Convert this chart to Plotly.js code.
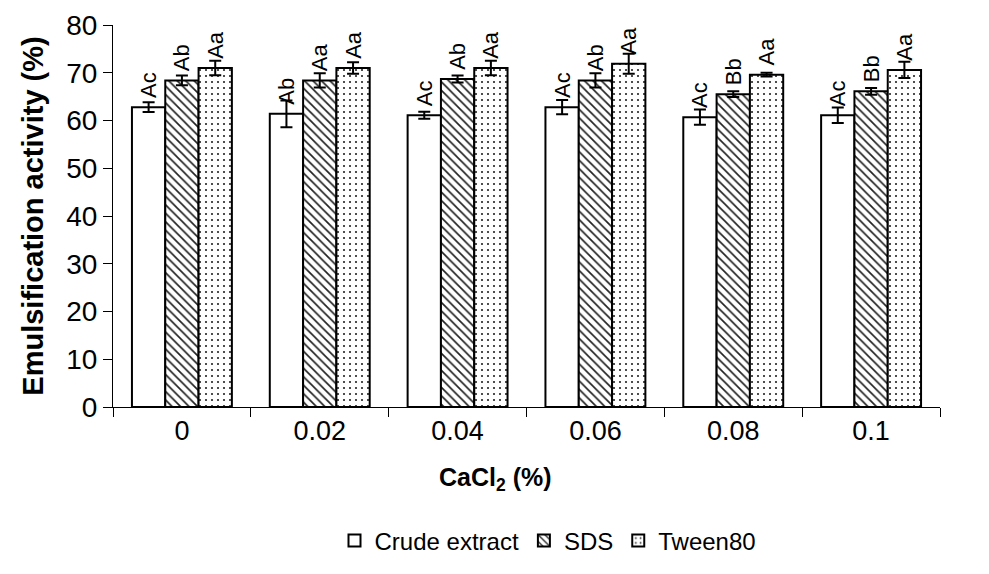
<!DOCTYPE html>
<html>
<head>
<meta charset="utf-8">
<script src="https://cdn.plot.ly/plotly-3.0.1.min.js"></script>
<style>html,body{margin:0;padding:0;background:#fff;}#chart{width:989px;height:574px;}</style>
</head>
<body>
<div id="chart"></div>
<script>
const categories = ["0", "0.02", "0.04", "0.06", "0.08", "0.1"];
const seriesNames = ["Crude extract", "SDS", "Tween80"];
const crudeValues = [62.8, 61.4, 61.1, 62.8, 60.7, 61.1];
const crudeErrors = [1.0, 2.8, 0.75, 1.5, 1.6, 1.6];
const crudeLabels = ["Ac", "Ab", "Ac", "Ac", "Ac", "Ac"];
const sdsValues = [68.4, 68.4, 68.7, 68.4, 65.5, 66.1];
const sdsErrors = [1.0, 1.5, 0.75, 1.5, 0.6, 0.7];
const sdsLabels = ["Ab", "Aa", "Ab", "Ab", "Bb", "Bb"];
const tweenValues = [71.0, 71.0, 71.0, 71.9, 69.6, 70.6];
const tweenErrors = [1.5, 1.2, 1.5, 2.1, 0.4, 1.7];
const tweenLabels = ["Aa", "Aa", "Aa", "Aa", "Aa", "Aa"];
const yTicks = [0, 10, 20, 30, 40, 50, 60, 70, 80];
const xTitle = "<b>CaCl<sub>2</sub> (%)</b>";
const yTitle = "<b>Emulsification activity (%)</b>";

const FONT = "Arial, 'Liberation Sans', sans-serif";

function mk(name, vals, errs, labels, pattern) {
  return {
    type: "bar", name: name, x: categories, y: vals,
    text: labels.map(function (s) { return "\u00a0" + s; }),
    textposition: "outside", textangle: -90,
    constraintext: "none", cliponaxis: false,
    textfont: {family: FONT, size: 22, color: "#000"},
    marker: {color: "#fff", line: {color: "#000", width: 2}, pattern: pattern},
    error_y: {type: "data", array: errs, visible: true, color: "#000", thickness: 2, width: 6}
  };
}

const data = [
  mk(seriesNames[0], crudeValues, crudeErrors, crudeLabels, {shape: ""}),
  mk(seriesNames[1], sdsValues, sdsErrors, sdsLabels, {shape: "\\", size: 6, solidity: 0.28, fgcolor: "#222", bgcolor: "#fff", fillmode: "replace"}),
  mk(seriesNames[2], tweenValues, tweenErrors, tweenLabels, {shape: ".", size: 6, solidity: 0.1, fgcolor: "#222", bgcolor: "#fff", fillmode: "replace"})
];

const layout = {
  width: 989, height: 574,
  margin: {l: 113, r: 49, t: 25, b: 166},
  paper_bgcolor: "#fff", plot_bgcolor: "#fff",
  font: {family: FONT, color: "#000", size: 26},
  barmode: "group", bargap: 0.275, bargroupgap: 0,
  showlegend: true,
  legend: {orientation: "h", x: 0.526, xanchor: "center", y: -0.347, yanchor: "middle",
           font: {family: FONT, size: 24, color: "#000"}, itemwidth: 30, tracegroupgap: 0},
  xaxis: {
    type: "category", range: [-0.5, 5.5],
    showline: true, linecolor: "#000", linewidth: 1,
    ticks: "outside", tickson: "boundaries", ticklen: 9, tickcolor: "#000", tickwidth: 1,
    tickfont: {family: FONT, size: 27, color: "#000"},
    showgrid: false, zeroline: false
  },
  yaxis: {
    range: [0, 80], tickvals: yTicks, ticktext: yTicks.map(String),
    showline: true, linecolor: "#000", linewidth: 1,
    ticks: "outside", ticklen: 9, tickcolor: "#000", tickwidth: 1,
    tickfont: {family: FONT, size: 28, color: "#000"},
    showgrid: false, zeroline: false,
    title: {text: yTitle, font: {family: FONT, size: 29, color: "#000"}, standoff: 14}
  },
  annotations: [
    {xref: "paper", yref: "paper", x: 0.463, y: -0.188, xanchor: "center", yanchor: "middle",
     showarrow: false, text: xTitle, font: {family: FONT, size: 25, color: "#000"}}
  ]
};

Plotly.newPlot("chart", data, layout, {displayModeBar: false, staticPlot: true});
</script>
</body>
</html>
